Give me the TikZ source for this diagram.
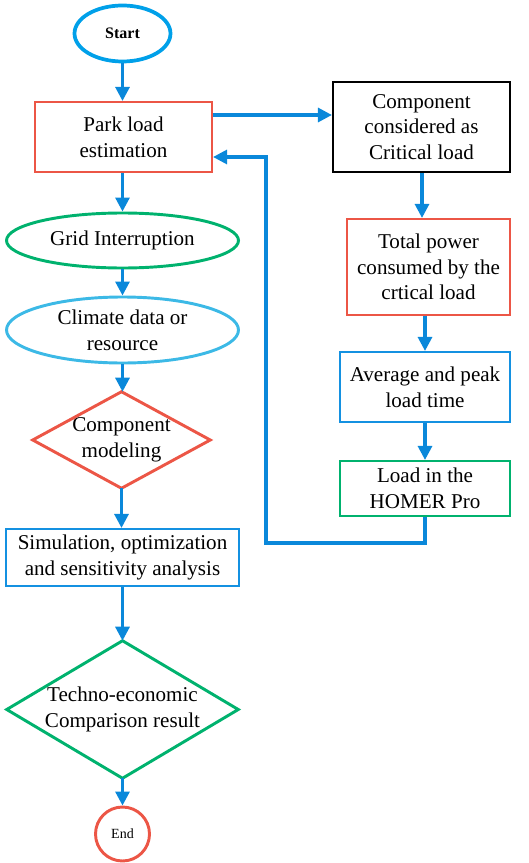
\documentclass[tikz,border=0pt]{standalone}
\usepackage{fontspec}
\setmainfont{Liberation Serif}
\usetikzlibrary{shapes.geometric,arrows.meta,calc}
\definecolor{arrblue}{RGB}{10,136,218}
\definecolor{startblue}{RGB}{0,160,233}
\definecolor{fred}{RGB}{236,86,70}
\definecolor{fgreen}{RGB}{0,178,110}
\definecolor{lblue}{RGB}{60,185,230}
\definecolor{bblue}{RGB}{20,145,225}
\tikzset{
  sz/.style n args={2}{minimum width=#1*0.75pt, minimum height=#2*0.75pt},
  txt/.style={font=\fontsize{15.8}{19.2}\selectfont, align=center, inner sep=0pt},
  boxn/.style={txt, draw, rectangle, line width=1.6pt},
  ell/.style={txt, draw, ellipse, line width=2.2pt},
  dia/.style={txt, rectangle},
  arr/.style={draw=arrblue, line width=2.3pt, -{Triangle[length=10.5pt,width=10.5pt]}},
}
\begin{document}
\begin{tikzpicture}[x=0.75pt,y=-0.75pt]
\useasboundingbox (0,0) rectangle (528,863);
% left column
\node[ell, draw=startblue, line width=2.8pt, sz={96}{56}, font=\fontsize{12}{14}\selectfont\bfseries] (start) at (122.5,33.5) {Start};
\node[boxn, draw=fred, sz={177}{70}] (park) at (123.5,137) {Park load\\estimation};
\node[ell, draw=fgreen, sz={232}{55}] (grid) at (122.5,240.5) {Grid Interruption};
\node[ell, draw=lblue, sz={232}{66}] (clim) at (122.5,330) {Climate data or\\resource};
\node[dia, sz={177}{96}] (cm) at (121.5,440) {Component\\modeling};
\draw[fred, line width=2.2pt, line join=miter] (cm.north) -- (cm.east) -- (cm.south) -- (cm.west) -- cycle;
\node[boxn, draw=bblue, sz={233}{57}] (sim) at (122.5,557.5) {Simulation, optimization\\and sensitivity analysis};
\node[dia, sz={231}{137}] (tech) at (122.5,709.5) {Techno-economic\\Comparison result};
\draw[fgreen, line width=2.2pt, line join=miter] (tech.north) -- (tech.east) -- (tech.south) -- (tech.west) -- cycle;
\node[txt, draw=fred, circle, line width=2.2pt, minimum size=54*0.75pt, font=\fontsize{10.5}{12}\selectfont] (end) at (122.5,834) {End};
% right column
\node[boxn, draw=black, sz={177}{90}] (comp) at (421.5,127) {Component\\considered as\\Critical load};
\node[boxn, draw=fred, sz={163}{96}] (tot) at (428.5,267) {Total power\\consumed by the\\crtical load};
\node[boxn, draw=bblue, sz={170}{70}] (avg) at (425,387) {Average and peak\\load time};
\node[boxn, draw=fgreen, sz={170}{55}] (load) at (425,488.5) {Load in the\\HOMER Pro};
% connectors
\draw[arr] (start.south) -- (start.south |- park.north);
\draw[arr] (park.south -| grid.south) -- (grid.north);
\draw[arr] (grid.south) -- (clim.north);
\draw[arr] (clim.south) -- (clim.south |- cm.north);
\draw[arr] (cm.south) -- (cm.south |- sim.north);
\draw[arr] (sim.south) -- (tech.north);
\draw[arr] (tech.south) -- (end.north);
\draw[arr] (park.east |- 0,115) -- (comp.west |- 0,115);
\draw[arr] (comp.south -| 422,0) -- (tot.north -| 422,0);
\draw[arr] (tot.south -| 425,0) -- (avg.north);
\draw[arr] (avg.south) -- (load.north);
\coordinate (fb) at (266,543);
\draw[arr, line join=miter] (load.south) -- (load.south |- fb) -- (fb) -- (266,157) -- (park.east |- 0,157);
\end{tikzpicture}
\end{document}
